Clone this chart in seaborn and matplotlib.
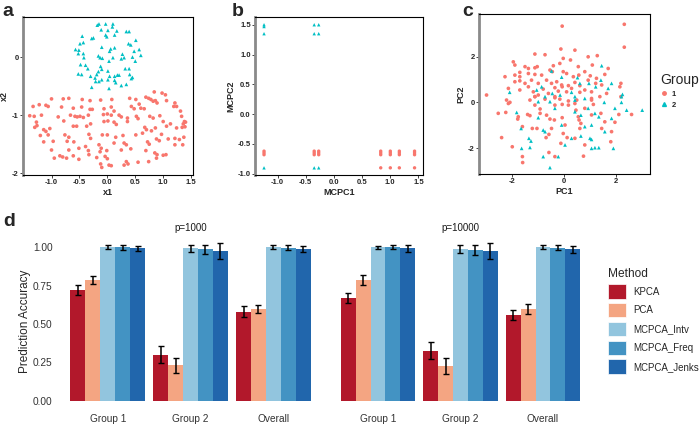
import numpy as np
import pandas as pd
import matplotlib
matplotlib.use("Agg")
import matplotlib.pyplot as plt
import seaborn as sns
from matplotlib.lines import Line2D
from matplotlib.patches import Patch

# ---- panel a: x1 / x2 ----
a_red_x = [-1.00, -0.79, -0.69, -0.45, -0.31, -0.12, 0.08, 0.40, 0.51, 0.69, 0.74, 0.78, 0.84, 0.86, 0.89, 0.98, 1.04, 0.82,
           -1.33, -1.22, -1.10, -1.06, -0.82, -0.61, -0.46, -0.31, -0.27, -0.06, 0.07, 0.12, 0.43, 0.48, 0.57, 0.60, 0.66, 1.06, 1.21, 1.24, 1.31, 1.19,
           -1.39, -1.31, -1.18, -1.27, -1.26, -1.30, -0.88, -0.66, -0.58, -0.54, -0.49, -0.43, -0.34, -0.07, 0.00, 0.07, 0.21, 0.25, 0.36, 0.52, 0.55, 0.76, 0.82, 0.94, 1.00, 1.33, 1.38, 1.36, 1.40, 1.39,
           -1.14, -1.10, -1.03, -0.78, -0.61, -0.55, -0.37, -0.30, -0.06, 0.01, 0.12, 0.16, 0.36, 0.67, 0.70, 0.79, 0.86, 1.06, 1.13, 1.24, 1.34,
           -1.20, -1.06, -0.76, -0.69, -0.33, -0.30, -0.09, 0.00, 0.15, 0.28, 0.51, 0.63, 0.97, 1.21, 1.29, 1.37,
           -1.14, -0.97, -0.72, -0.60, -0.39, -0.15, -0.11, 0.12, 0.30, 0.34, 0.72, 0.75, 0.88, 0.93, 1.09, 1.21, 1.35,
           -1.00, -0.69, -0.51, -0.34, -0.13, -0.01, 0.25, 0.42, 0.69, 0.85, 0.89, 1.00, 1.05,
           -0.95, -0.85, -0.80, -0.73, -0.61, -0.51, -0.33, -0.19, -0.04, 0.00, 0.34, 0.37, 0.30, 0.55, 0.88, 0.74,
           -0.12, -0.10, 0.03, 0.07]
a_red_y = [-0.72, -0.72, -0.71, -0.73, -0.75, -0.74, -0.73, -0.71, -0.73, -0.69, -0.71, -0.73, -0.60, -0.75, -0.79, -0.62, -0.65, -0.76,
           -0.85, -0.82, -0.83, -0.85, -0.86, -0.88, -0.86, -0.90, -0.90, -0.89, -0.86, -0.93, -0.85, -0.89, -0.81, -0.88, -0.89, -0.75, -0.79, -0.85, -0.93, -0.85,
           -1.01, -1.02, -1.00, -1.12, -1.18, -1.21, -1.03, -1.00, -1.02, -1.03, -1.02, -1.04, -1.00, -0.99, -0.98, -1.00, -1.00, -1.03, -1.05, -1.02, -1.06, -1.02, -1.05, -1.01, -1.11, -1.02, -1.11, -1.15, -1.12, -1.20,
           -1.25, -1.28, -1.23, -1.10, -1.19, -1.19, -1.19, -1.15, -1.11, -1.10, -1.12, -1.16, -1.11, -1.21, -1.25, -1.27, -1.22, -1.19, -1.15, -1.22, -1.21,
           -1.35, -1.34, -1.34, -1.38, -1.33, -1.40, -1.34, -1.34, -1.38, -1.35, -1.34, -1.31, -1.33, -1.40, -1.42, -1.38,
           -1.46, -1.45, -1.45, -1.46, -1.54, -1.51, -1.57, -1.48, -1.48, -1.51, -1.46, -1.50, -1.41, -1.44, -1.41, -1.51, -1.51,
           -1.60, -1.60, -1.57, -1.61, -1.63, -1.61, -1.60, -1.58, -1.61, -1.65, -1.68, -1.69, -1.68,
           -1.74, -1.70, -1.72, -1.74, -1.70, -1.76, -1.68, -1.73, -1.71, -1.75, -1.80, -1.84, -1.86, -1.81, -1.74, -1.80,
           -1.84, -1.90, -1.86, -1.87]
a_cyan_x = [-0.18, -0.15, -0.03, 0.10, 0.09, 0.01, 0.17, -0.11, 0.34, 0.39, -0.45, -0.25, -0.28, -0.03, -0.01, 0.13, 0.51, 0.38, 0.42,
            -0.43, -0.49, -0.10, 0.06, 0.13, 0.04, -0.57, -0.51, -0.52, 0.57, 0.48, 0.60, -0.43, -0.42, -0.16, -0.13, -0.09, 0.27, 0.30, 0.25,
            0.45, 0.50, 0.03, 0.10, -0.48, -0.39, -0.35, -0.12, -0.10, 0.32, 0.39, -0.52, -0.46, -0.16, -0.19, -0.22, -0.30, 0.01, 0.04,
            0.18, 0.21, 0.13, 0.40, 0.45, 0.43, -0.10, -0.15, -0.21, 0.01, 0.13, 0.15, 0.25, 0.34, -0.28, 0.03]
a_cyan_y = [0.55, 0.57, 0.57, 0.57, 0.52, 0.46, 0.45, 0.47, 0.44, 0.44, 0.36, 0.33, 0.32, 0.38, 0.35, 0.38, 0.29, 0.23, 0.21,
            0.25, 0.23, 0.17, 0.14, 0.16, 0.10, 0.13, 0.12, 0.06, 0.13, 0.10, 0.03, 0.06, -0.01, 0.02, -0.01, -0.02, 0.05, -0.01, -0.03,
            0.00, -0.07, -0.07, -0.01, -0.13, -0.14, -0.20, -0.16, -0.21, -0.20, -0.20, -0.29, -0.30, -0.25, -0.30, -0.36, -0.33, -0.24, -0.33,
            -0.31, -0.31, -0.33, -0.30, -0.35, -0.37, -0.39, -0.42, -0.42, -0.39, -0.40, -0.44, -0.49, -0.47, -0.52, -0.54]

# ---- panel b: MCPC1 / MCPC2 ----
b_red_x = [-1.24, -1.24, -1.24, -0.35, -0.35, -0.35, -0.27, -0.27, -0.27, 0.83, 0.83, 0.83, 1.0, 1.0, 1.0,
           1.16, 1.16, 1.16, 1.43, 1.43, 1.43, 0.83, 1.0, 1.16, 1.43]
b_red_y = [-0.62, -0.65, -0.68, -0.62, -0.65, -0.68, -0.62, -0.65, -0.68, -0.62, -0.65, -0.68, -0.62, -0.65, -0.68,
           -0.62, -0.65, -0.68, -0.62, -0.65, -0.68, -0.90, -0.90, -0.90, -0.90]
b_cyan_x = [-1.24, -1.24, -1.24, -0.35, -0.27, -0.35, -0.27, -1.24, -0.35, -0.27]
b_cyan_y = [1.50, 1.47, 1.35, 1.50, 1.50, 1.35, 1.35, -0.90, -0.90, -0.90]

# ---- panel c: PC1 / PC2 ----
c_red_x = [-0.08, 2.31, 2.31, -1.13, -0.74, -0.13, 0.41, 0.92, 1.27, -1.96, -1.90, -1.51, -1.38, -1.13, -1.04, -0.42, -0.17, -0.04,
           0.24, 0.54, 0.79, 1.08, 1.69, -2.28, -1.90, -1.71, -1.71, -1.38, -1.13, -0.87, -0.55, -0.46, -0.04, 0.09, 0.35, 0.56, 1.00,
           1.24, 1.56, -1.90, -1.71, -1.51, -1.26, -1.00, -0.68, -0.49, -0.29, -0.10, 0.16, 0.41, 0.60, 0.92, 1.21, 1.44, 2.18, 2.14,
           -2.99, -2.15, -1.71, -1.38, -1.19, -1.00, -0.81, -0.61, -0.36, -0.23, -0.08, 0.09, 0.28, 0.60, 0.79, 1.05, 1.37, 1.63, 2.18,
           -1.13, -0.74, -0.36, 0.16, 0.48, 1.05, -2.09,
           -2.22, -2.15, -2.54, -2.25, -1.77, -1.79, -1.41, -1.32, -1.61, -1.23, -0.93, -0.68, -0.55, -0.38, -0.49, -0.59, -0.08, 0.03,
           -0.04, 0.16, 0.41, 0.54, 0.57, 0.64, 0.79, 1.05, 1.12, 1.41, 1.56, 2.10, 2.59, -2.41, -2.00, -1.61, -1.60, -0.70, -0.59,
           -0.36, -0.13, 0.11, 0.41, 0.79, 0.74, -1.13, -1.32, -0.36, -0.08, -1.13, -0.93, -0.36, -0.17, 0.45, 0.60, 1.05, 1.44, 1.82,
           1.95, -1.05, 1.79]
c_red_y = [3.33, 3.41, 2.41, 2.11, 2.08, 2.33, 2.28, 1.99, 2.04, 1.77, 1.63, 1.56, 1.48, 1.51, 1.56, 1.60, 1.70, 1.92,
           1.85, 1.56, 1.34, 1.63, 1.48, 1.12, 1.19, 1.31, 1.12, 1.26, 1.22, 1.19, 1.41, 1.34, 1.34, 1.26, 1.12, 1.19, 1.16,
           1.05, 1.22, 0.90, 0.94, 0.83, 0.97, 0.83, 0.97, 0.83, 0.90, 0.76, 0.73, 0.87, 0.73, 0.97, 0.83, 0.76, 0.83, 0.68,
           0.32, 0.61, 0.54, 0.68, 0.46, 0.32, 0.58, 0.39, 0.64, 0.49, 0.68, 0.46, 0.61, 0.44, 0.54, 0.46, 0.25, 0.39, 0.25,
           0.25, 0.14, 0.20, 0.06, 0.10, 0.17, 0.00,
           0.10, -0.05, -0.48, -0.44, -0.63, -0.73, -0.53, -0.58, -1.06, -1.14, -0.48, -0.56, -0.73, -0.77, -1.14, -1.40, -0.67, -0.99,
           -1.36, -0.12, -0.05, -0.63, -0.77, -0.92, -0.26, 0.10, -0.09, -0.48, -0.85, -0.53, -0.53, -1.54, -1.94, -2.37, -2.63, -1.54, -2.19,
           -2.37, -1.79, -1.54, -1.57, -1.86, -2.35, 0.25, 0.10, -0.12, -0.09, -0.12, -0.29, 0.25, 0.14, -0.34, -1.14, -0.55, -1.14, -1.28,
           -0.87, -1.14, -1.72]
c_cyan_x = [-2.10, -0.49, -0.10, 0.51, 1.44, 1.41, 1.82, 2.24, -0.87, -1.06, -0.46, -0.16, 0.28, 0.60, 0.95, 1.21, 1.69, -0.74,
            0.41, 0.79, 1.54,
            -1.83, -1.66, -1.36, -1.28, -1.64, -1.32, -0.81, -0.23, -0.55, -1.00, -0.81, -0.36, -0.10, 0.03, 0.28, 0.64, 0.99, 1.05,
            1.18, 1.33, 1.89, 1.05, 0.92, 1.18, 1.33, 1.56, 1.82, 1.95, 2.20, 2.20, 2.40, 3.00, -0.74, 0.41, 0.64, 0.79, 1.05, -1.00,
            -0.55, 0.41]
c_cyan_y = [0.44, 1.37, 1.10, 1.08, 1.60, 0.97, 0.83, 0.35, 0.68, 0.54, 0.39, 0.32, 0.44, 0.83, 0.83, 0.68, 0.61, 0.25,
            0.25, 0.17, 0.00,
            -0.44, -1.14, -1.57, -1.69, -2.01, -1.97, -2.37, -2.37, -2.85, -0.67, -1.21, -0.26, -0.99, -1.86, -1.57, -1.47, -1.57, -1.62,
            -1.98, -1.98, -2.01, -2.01, -0.26, -0.48, -0.63, -1.28, -0.70, -0.26, 0.25, 0.00, -0.34, -0.34, -1.28, -0.41, -0.56, -1.06, -0.99, 0.03,
            0.03, 0.10]

# ---- panel d: prediction accuracy ----
groups = ["Group 1", "Group 2", "Overall"]
methods = ["KPCA", "PCA", "MCPCA_Intv", "MCPCA_Freq", "MCPCA_Jenks"]
method_colors = ["#B2182B", "#F4A582", "#92C5DE", "#4393C3", "#2166AC"]

acc_1000 = {
    "KPCA": [0.720, 0.300, 0.579],
    "PCA": [0.784, 0.231, 0.598],
    "MCPCA_Intv": [1.000, 0.991, 0.998],
    "MCPCA_Freq": [0.998, 0.985, 0.994],
    "MCPCA_Jenks": [0.991, 0.974, 0.985],
}
err_1000 = {
    "KPCA": [0.031, 0.056, 0.035],
    "PCA": [0.026, 0.051, 0.028],
    "MCPCA_Intv": [0.012, 0.023, 0.013],
    "MCPCA_Freq": [0.015, 0.030, 0.016],
    "MCPCA_Jenks": [0.017, 0.054, 0.020],
}
acc_10000 = {
    "KPCA": [0.670, 0.326, 0.557],
    "PCA": [0.784, 0.227, 0.598],
    "MCPCA_Intv": [0.998, 0.987, 0.998],
    "MCPCA_Freq": [0.998, 0.983, 0.994],
    "MCPCA_Jenks": [0.991, 0.974, 0.985],
}
err_10000 = {
    "KPCA": [0.031, 0.054, 0.033],
    "PCA": [0.031, 0.049, 0.032],
    "MCPCA_Intv": [0.011, 0.024, 0.012],
    "MCPCA_Freq": [0.013, 0.033, 0.016],
    "MCPCA_Jenks": [0.022, 0.054, 0.022],
}

RED = "#F8766D"
CYAN = "#00BFC4"

sns.set_style("white")
plt.rcParams["font.family"] = ["Liberation Sans", "DejaVu Sans"]

fig = plt.figure(figsize=(7, 4.24), dpi=100)


def scatter_df(rx, ry, cx, cy):
    return pd.DataFrame({
        "x": rx + cx,
        "y": ry + cy,
        "Group": ["1"] * len(rx) + ["2"] * len(cx),
    })


def style_scatter(ax, xlabel, ylabel, xticks, yticks, xfmt, yfmt):
    ax.set_xlabel(xlabel, fontsize=6.5, fontweight="bold", labelpad=1)
    ax.set_ylabel(ylabel, fontsize=6.5, fontweight="bold", labelpad=2)
    ax.set_xticks(xticks)
    ax.set_yticks(yticks)
    ax.set_xticklabels([xfmt.format(t) for t in xticks])
    ax.set_yticklabels([yfmt.format(t) for t in yticks])
    ax.tick_params(labelsize=5.5, length=2, width=0.6, pad=1, direction="out",
                   bottom=True, left=True)
    for t in ax.get_xticklabels() + ax.get_yticklabels():
        t.set_fontweight("bold")
    for s in ["top", "right", "bottom"]:
        ax.spines[s].set_color("black")
        ax.spines[s].set_linewidth(0.8)
    ax.spines["left"].set_color("#8a8a8a")
    ax.spines["left"].set_linewidth(2)
    ax.grid(False)


pal = {"1": RED, "2": CYAN}
mk = {"1": "o", "2": "^"}

ax_a = fig.add_axes([0.0329, 0.5873, 0.2429, 0.3726])
sns.scatterplot(data=scatter_df(a_red_x, a_red_y, a_cyan_x, a_cyan_y), x="x", y="y",
                hue="Group", style="Group", palette=pal, markers=mk, s=7,
                linewidth=0, legend=False, ax=ax_a)
ax_a.set_xlim(-1.51, 1.535)
ax_a.set_ylim(-2.03, 0.69)
style_scatter(ax_a, "x1", "x2", [-1.0, -0.5, 0.0, 0.5, 1.0, 1.5], [-2, -1, 0], "{:.1f}", "{:d}")

ax_b = fig.add_axes([0.3643, 0.5873, 0.24, 0.3726])
sns.scatterplot(data=scatter_df(b_red_x, b_red_y, b_cyan_x, b_cyan_y), x="x", y="y",
                hue="Group", style="Group", palette=pal, markers=mk, s=6,
                linewidth=0, legend=False, ax=ax_b)
ax_b.set_xlim(-1.40, 1.58)
ax_b.set_ylim(-1.02, 1.63)
style_scatter(ax_b, "MCPC1", "MCPC2", [-1.0, -0.5, 0.0, 0.5, 1.0, 1.5],
              [-1.0, -0.5, 0.0, 0.5, 1.0, 1.5], "{:.1f}", "{:.1f}")

ax_c = fig.add_axes([0.6843, 0.5896, 0.2443, 0.3774])
sns.scatterplot(data=scatter_df(c_red_x, c_red_y, c_cyan_x, c_cyan_y), x="x", y="y",
                hue="Group", style="Group", palette=pal, markers=mk, s=7,
                linewidth=0, legend=False, ax=ax_c)
ax_c.set_xlim(-3.28, 3.30)
ax_c.set_ylim(-3.13, 3.86)
style_scatter(ax_c, "PC1", "PC2", [-2, 0, 2], [-2, 0, 2], "{:d}", "{:d}")

grp_handles = [Line2D([], [], marker="o", color=RED, linestyle="", markersize=2.5),
               Line2D([], [], marker="^", color=CYAN, linestyle="", markersize=2.8)]
leg_c = ax_c.legend(grp_handles, ["1", "2"], title="Group", loc="upper left",
                    bbox_to_anchor=(1.06, 0.63), frameon=False, fontsize=5.5,
                    title_fontsize=10, handlelength=0.9, handletextpad=0.6,
                    labelspacing=0.45, borderpad=0, borderaxespad=0)
leg_c._legend_box.align = "left"
for t in leg_c.get_texts():
    t.set_fontweight("bold")

# panel letters
for x, y, s in [(0.004, 0.993, "a"), (0.331, 0.993, "b"), (0.661, 0.993, "c"), (0.004, 0.498, "d")]:
    fig.text(x, y, s, fontsize=14, fontweight="bold", va="top", ha="left")

# ---- panel d ----
def bar_facet(ax, acc, err, title):
    df = pd.DataFrame({
        "group": groups * len(methods),
        "method": [m for m in methods for _ in groups],
        "acc": [v for m in methods for v in acc[m]],
    })
    sns.barplot(data=df, x="group", y="acc", hue="method", order=groups,
                hue_order=methods, palette=method_colors, width=0.9, gap=0,
                errorbar=None, linewidth=0, saturation=1, legend=False, ax=ax)
    for m, cont in zip(methods, ax.containers):
        xs = [p.get_x() + p.get_width() / 2 for p in cont]
        ys = [p.get_height() for p in cont]
        ax.errorbar(xs, ys, yerr=err[m], fmt="none", ecolor="black",
                    elinewidth=1.1, capsize=2.2, capthick=1.0)
    ax.set_xlim(-0.6, 2.6)
    ax.set_ylim(-0.05, 1.08)
    ax.set_xlabel("")
    ax.set_ylabel("")
    ax.set_title(title, fontsize=7, pad=3, color="#1a1a1a")
    sns.despine(ax=ax, left=True, bottom=True)
    ax.tick_params(length=0, labelsize=7.3, colors="#333333", pad=4)
    ax.grid(False)


ax_d1 = fig.add_axes([0.0829, 0.0361, 0.3786, 0.4104])
bar_facet(ax_d1, acc_1000, err_1000, "p=1000")
ax_d1.set_yticks([0.0, 0.25, 0.5, 0.75, 1.0])
ax_d1.set_yticklabels(["0.00", "0.25", "0.50", "0.75", "1.00"])
ax_d1.set_ylabel("Prediction Accuracy", fontsize=8.5, labelpad=1)

ax_d2 = fig.add_axes([0.4693, 0.0361, 0.3771, 0.4104])
bar_facet(ax_d2, acc_10000, err_10000, "p=10000")
ax_d2.set_yticks([0.0, 0.25, 0.5, 0.75, 1.0])
ax_d2.set_yticklabels([])

meth_handles = [Patch(facecolor=c, edgecolor="white", linewidth=0.5) for c in method_colors]
leg_d = fig.legend(meth_handles, methods, title="Method", loc="upper left",
                   bbox_to_anchor=(0.868, 0.368), frameon=False, fontsize=7,
                   title_fontsize=8.6, handlelength=1.85, handleheight=1.9,
                   handletextpad=0.8, labelspacing=0.45, borderpad=0, borderaxespad=0)
leg_d._legend_box.align = "left"

fig.savefig("out.png", dpi=100)
